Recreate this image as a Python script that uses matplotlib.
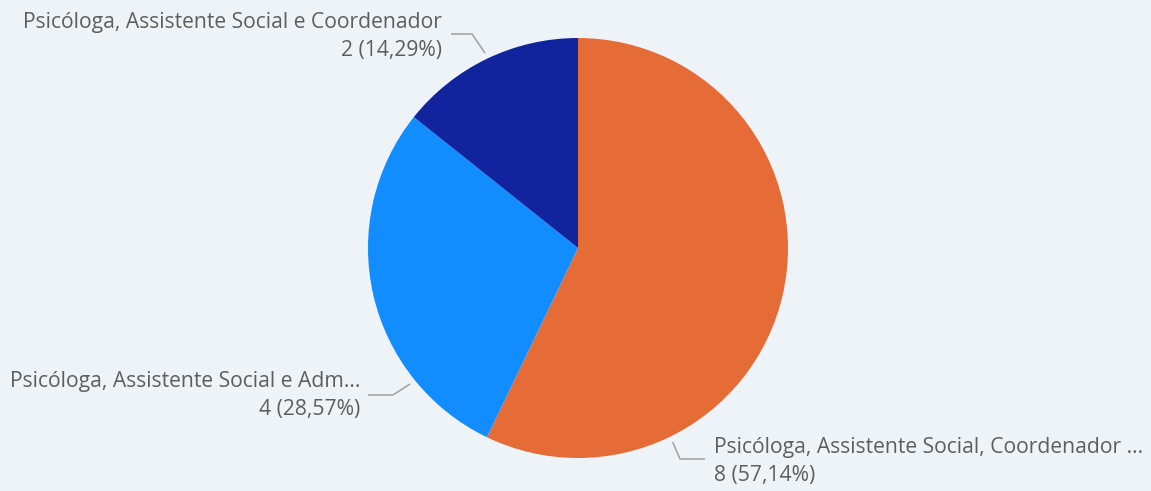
import matplotlib.pyplot as plt
import numpy as np

# 数据
categories = [
    "Psicóloga, Assistente Social, Coordenador ...",
    "Psicóloga, Assistente Social e Adm...",
    "Psicóloga, Assistente Social e Coordenador",
]
counts = [8, 4, 2]
colors = ["#E66C37", "#118DFF", "#12239E"]

total = sum(counts)
pcts = [c / total * 100 for c in counts]
value_labels = [f"{c} ({p:.2f}%)".replace(".", ",") for c, p in zip(counts, pcts)]

W, H = 1151, 491
fig = plt.figure(figsize=(W / 100, H / 100), dpi=100)
fig.patch.set_facecolor("#EEF3F8")
ax = fig.add_axes([0, 0, 1, 1])

cx, cy, r = 578, H - 248, 210
ax.pie(counts, colors=colors, startangle=90, counterclock=False,
       center=(cx, cy), radius=r, frame=True,
       wedgeprops={"linewidth": 0})
ax.set_xlim(0, W)
ax.set_ylim(0, H)
ax.set_aspect("equal")
ax.axis("off")

# 标签位置 (锚点角度, 折线, 文字)
label_cfg = [
    # orange: right-bottom
    dict(ang=-64, elbow=(680, H - 459), end=(705, H - 459),
         xy=(714, H - 448), ha="left"),
    # blue: left-bottom
    dict(ang=219, elbow=(393, H - 395), end=(368, H - 395),
         xy=(360, H - 382), ha="right"),
    # dark blue: top-left
    dict(ang=115.5, elbow=(472, H - 34), end=(451, H - 34),
         xy=(442, H - 22), ha="right"),
]

txt_color = "#605E5C"
for cat, vl, cfg in zip(categories, value_labels, label_cfg):
    a = np.deg2rad(cfg["ang"])
    sx, sy = cx + (r + 6) * np.cos(a), cy + (r + 6) * np.sin(a)
    ex, ey = cfg["elbow"]
    tx, ty = cfg["end"]
    ax.plot([sx, ex, tx], [sy, ey, ty], color="#A6A6A6", lw=1.2,
            solid_capstyle="butt")
    x, y = cfg["xy"]
    ax.text(x, y, cat, ha=cfg["ha"], va="center", fontsize=15.2,
            color=txt_color, family="Open Sans")
    ax.text(x, y - 28, vl, ha=cfg["ha"], va="center", fontsize=15.2,
            color=txt_color, family="Open Sans")

plt.savefig("out.png", dpi=100, facecolor=fig.get_facecolor())
